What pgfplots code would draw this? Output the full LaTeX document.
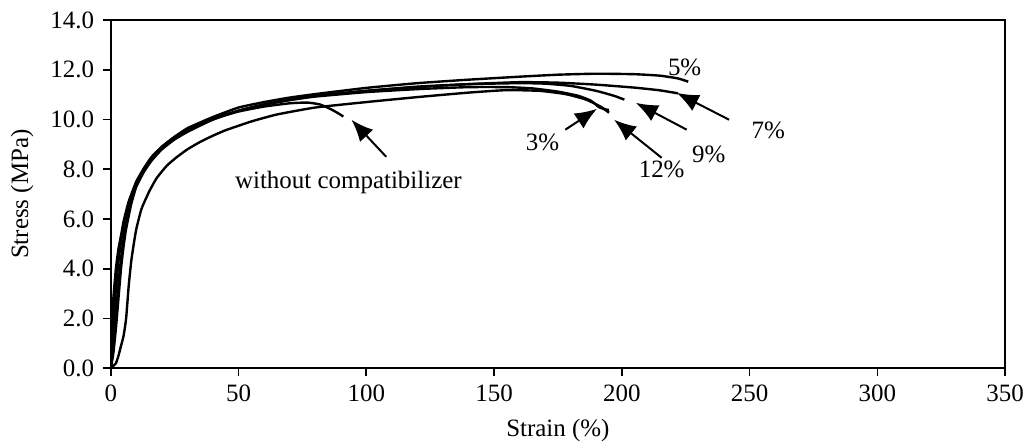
\documentclass[border=0pt]{standalone}
\usepackage{fontspec}
\setmainfont{Liberation Serif}
\usepackage{pgfplots}
\pgfplotsset{compat=1.18}
\usetikzlibrary{arrows.meta}
\begin{document}
\fontsize{12.5}{15}\selectfont
\begin{tikzpicture}
\begin{axis}[name=ax, scale only axis, width=448pt, height=174.5pt,
  xmin=0, xmax=350, ymin=0, ymax=14,
  xtick={0,50,...,350}, ytick={0,2,...,14},
  tick align=outside, xtick pos=bottom, ytick pos=left,
  major tick length=4pt,
  /pgf/number format/assume math mode=true,
  yticklabel style={/pgf/number format/fixed,/pgf/number format/fixed zerofill,/pgf/number format/precision=1},
  xticklabel style={/pgf/number format/fixed},
  tick label style={font=\fontsize{12.5}{15}\selectfont},
  label style={font=\fontsize{12.5}{15}\selectfont},
  xlabel={Strain (\%)}, ylabel={Stress (MPa)},
  axis line style={line width=0.8pt},
  every tick/.style={black, line width=0.8pt},
  cycle list={{black, solid}},
  every axis plot/.append style={line width=1.2pt, no marks, smooth, tension=0.3},
]
% 5%
\addplot coordinates {(0,0) (0.5,0.8) (1,1.8) (2,3.2) (3,4.3) (4,5.1) (5,5.7) (6,6.2) (8,6.9) (10,7.5) (13,8.0) (16,8.45) (20,8.9) (25,9.3) (30,9.65) (40,10.1) (50,10.48) (60,10.7) (70,10.88) (80,11.02) (100,11.27) (120,11.46) (140,11.6) (160,11.72) (175,11.8) (190,11.84) (205,11.82) (215,11.76) (222,11.65) (226,11.52)};
% 7%
\addplot coordinates {(0,0) (1,0.6) (2,1.6) (3,2.8) (4,4.0) (5,4.9) (6,5.6) (8,6.6) (10,7.3) (13,7.9) (16,8.35) (20,8.8) (25,9.2) (30,9.5) (40,10.0) (50,10.35) (60,10.6) (70,10.8) (80,10.95) (100,11.15) (120,11.3) (140,11.42) (160,11.5) (175,11.48) (190,11.4) (205,11.28) (215,11.17) (222,11.05)};
% 9%
\addplot coordinates {(0,0) (1,1.0) (2,2.2) (3,3.4) (4,4.4) (5,5.2) (6,5.8) (8,6.8) (10,7.4) (13,8.0) (16,8.4) (20,8.85) (25,9.25) (30,9.55) (40,10.0) (50,10.35) (60,10.6) (70,10.78) (80,10.95) (100,11.15) (120,11.32) (140,11.42) (160,11.46) (170,11.44) (180,11.35) (190,11.15) (197,10.95) (201,10.8)};
% 3%
\addplot coordinates {(0,0) (0.5,1.5) (1,2.8) (2,4.0) (3,4.8) (4,5.3) (4.5,5.5) (5,5.4) (6,5.9) (8,6.8) (10,7.4) (13,8.0) (16,8.45) (20,8.9) (25,9.3) (30,9.6) (40,10.05) (50,10.35) (60,10.6) (70,10.78) (80,10.92) (100,11.1) (120,11.22) (140,11.3) (155,11.3) (165,11.25) (175,11.12) (183,10.95) (188,10.75) (191,10.5) (193,10.42) (195,10.38)};
% 12%
\addplot coordinates {(0,0) (1,0.1) (2,0.2) (3,0.5) (4,0.9) (5,1.3) (6,2.0) (7,3.3) (8,4.3) (9,5.0) (10,5.6) (12,6.4) (15,7.1) (18,7.65) (22,8.15) (26,8.5) (30,8.8) (35,9.1) (40,9.35) (45,9.57) (55,9.92) (65,10.2) (80,10.48) (100,10.7) (120,10.9) (140,11.08) (155,11.18) (168,11.15) (178,11.02) (186,10.8) (192,10.5) (195,10.27)};
% without compatibilizer
\addplot coordinates {(0,0) (0.5,1.0) (1,2.2) (2,3.5) (3,4.5) (4,5.3) (5,5.9) (7,6.7) (10,7.5) (13,8.05) (16,8.5) (20,8.9) (25,9.3) (30,9.6) (40,10.02) (50,10.32) (60,10.52) (70,10.65) (77,10.68) (82,10.6) (86,10.42) (89,10.25) (91,10.12)};

\begin{scope}[line width=1pt, -{Latex[length=11pt,width=9pt]}]
\draw (axis cs:107.8,8.5) -- (axis cs:94.2,9.99);
\draw (axis cs:177.9,9.59) -- (axis cs:190.3,10.43);
\draw (axis cs:215.6,8.46) -- (axis cs:197,9.99);
\draw (axis cs:225.4,9.59) -- (axis cs:205.5,10.67);
\draw (axis cs:242,9.99) -- (axis cs:221.5,11.07);
\end{scope}
\node at (axis cs:93,7.46) {without compatibilizer};
\node at (axis cs:169,9.07) {3\%};
\node at (axis cs:215.6,7.98) {12\%};
\node at (axis cs:234,8.58) {9\%};
\node at (axis cs:257.3,9.55) {7\%};
\node at (axis cs:224.6,12.11) {5\%};
\end{axis}
\pgfresetboundingbox
\path ([shift={(-55.5pt,-38pt)}]ax.south west) rectangle ([shift={(9pt,10pt)}]ax.north east);
\end{tikzpicture}
\end{document}
